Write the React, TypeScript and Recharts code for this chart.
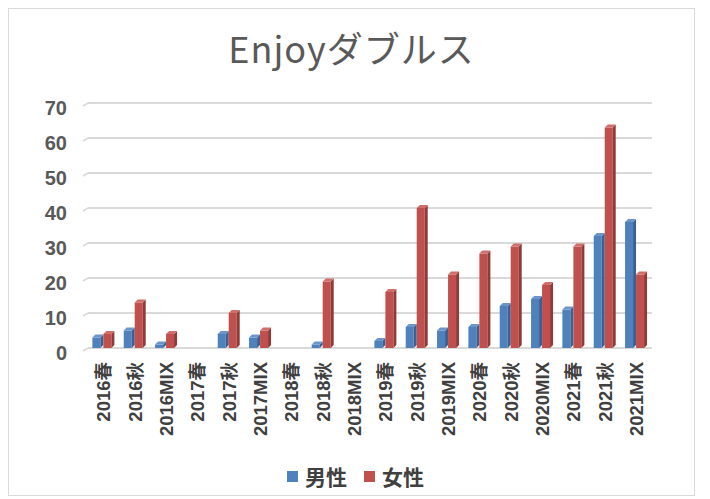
import React from 'react';
import { BarChart, Bar, XAxis, YAxis, CartesianGrid } from 'recharts';

const categories = [
  '2016春', '2016秋', '2016MIX', '2017春', '2017秋', '2017MIX',
  '2018春', '2018秋', '2018MIX', '2019春', '2019秋', '2019MIX',
  '2020春', '2020秋', '2020MIX', '2021春', '2021秋', '2021MIX',
];
const male = [3, 5, 1, 0, 4, 3, 0, 1, 0, 2, 6, 5, 6, 12, 14, 11, 32, 36];
const female = [4, 13, 4, 0, 10, 5, 0, 19, 0, 16, 40, 21, 27, 29, 18, 29, 63, 21];
const yTicks = [0, 10, 20, 30, 40, 50, 60, 70];

const data = categories.map((c, i) => ({ name: c, 男性: male[i], 女性: female[i] }));

const BLUE = '#4f81bd';
const RED = '#c0504d';
const BLUE_DARK = '#3a6191';
const RED_DARK = '#8f3b39';
const BLUE_TOP = '#6a95cb';
const RED_TOP = '#cf6e6b';

const make3D = (side: string, top: string) => (props: any) => {
  const { x, y, width, height, fill } = props;
  if (!height || height <= 0) return <g />;
  const d = 3;
  const fw = width - d;
  return (
    <g>
      <rect x={x} y={y} width={fw} height={height} fill={fill} />
      <polygon
        points={`${x + fw},${y} ${x + fw + d},${y - d} ${x + fw + d},${y + height - d} ${x + fw},${y + height}`}
        fill={side}
      />
      <polygon
        points={`${x},${y} ${x + d},${y - d} ${x + fw + d},${y - d} ${x + fw},${y}`}
        fill={top}
      />
    </g>
  );
};

const XTick = (props: any) => {
  const { x, y, payload } = props;
  return (
    <g transform={`translate(${x},${y + 6})`}>
      <text
        transform="rotate(-90)"
        textAnchor="end"
        dy="0.36em"
        fontSize={18.5}
        fontWeight={700}
        fill="#404040"
        fontFamily="'Liberation Sans', 'Noto Sans CJK JP', sans-serif"
      >
        {payload.value}
      </text>
    </g>
  );
};

const GridLine = (props: any) => {
  const { x1, x2, y1 } = props;
  return (
    <g>
      <line x1={x1} y1={y1} x2={x2} y2={y1} stroke="#d9d9d9" strokeWidth={2} />
      <line x1={x1 - 5} y1={y1 + 3} x2={x1} y2={y1} stroke="#d9d9d9" strokeWidth={1.5} />
    </g>
  );
};

export default function App() {
  return (
    <div style={{ position: 'absolute', left: 0, top: 0, width: 710, height: 499, background: '#fff' }}>
      <div
        style={{
          position: 'absolute', left: 8, top: 8, width: 687, height: 488,
          border: '1px solid #d9d9d9', boxSizing: 'border-box',
        }}
      />
      <div
        style={{
          position: 'absolute', left: 8, width: 687, top: 22, textAlign: 'center', lineHeight: '50px',
          fontSize: 36, color: '#595959', fontFamily: "'Noto Sans CJK JP', sans-serif", letterSpacing: 1,
        }}
      >
        Enjoyダブルス
      </div>
      <div style={{ position: 'absolute', left: 0, top: 0 }}>
        <BarChart
          width={710}
          height={499}
          data={data}
          margin={{ top: 103, right: 58, left: 0, bottom: 0 }}
          barCategoryGap="14%"
          barGap={0}
        >
          <CartesianGrid vertical={false} horizontal={GridLine} />
          <XAxis
            dataKey="name"
            height={151}
            interval={0}
            axisLine={false}
            tickLine={false}
            tick={<XTick />}
          />
          <YAxis
            width={88}
            domain={[0, 70]}
            ticks={yTicks}
            axisLine={false}
            tickLine={false}
            tickMargin={15}
            dy={5}
            tick={{ fontSize: 20, fontWeight: 700, fill: '#595959', fontFamily: "'Liberation Sans', sans-serif" }}
          />
          <Bar dataKey="男性" fill={BLUE} isAnimationActive={false} shape={make3D(BLUE_DARK, BLUE_TOP)} />
          <Bar dataKey="女性" fill={RED} isAnimationActive={false} shape={make3D(RED_DARK, RED_TOP)} />
        </BarChart>
      </div>
      <div
        style={{
          position: 'absolute', left: 287, top: 461, display: 'flex', alignItems: 'center',
          fontSize: 21, color: '#404040', fontWeight: 700, fontFamily: "'Noto Sans CJK JP', sans-serif",
        }}
      >
        <span style={{ width: 11, height: 11, background: BLUE, display: 'inline-block', marginRight: 7 }} />
        <span style={{ marginRight: 17 }}>男性</span>
        <span style={{ width: 11, height: 11, background: RED, display: 'inline-block', marginRight: 7 }} />
        <span>女性</span>
      </div>
    </div>
  );
}
